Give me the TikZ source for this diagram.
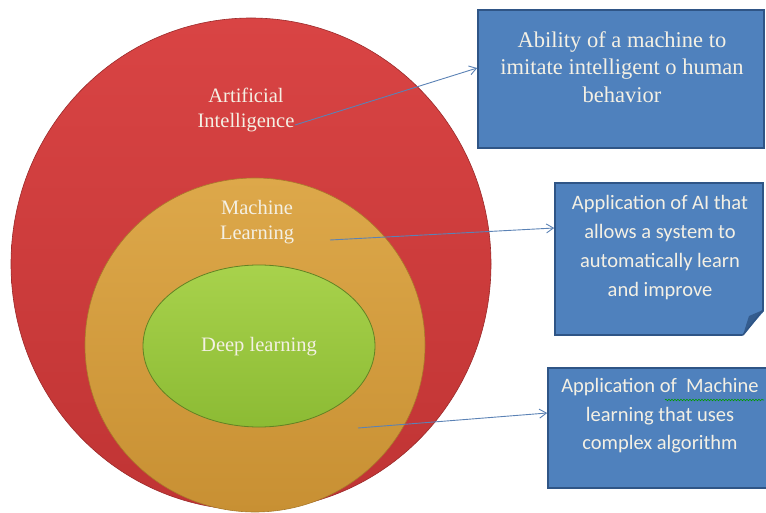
\documentclass[tikz,border=0pt]{standalone}
\usepackage{fontspec}
\setmainfont{Liberation Serif}
\newfontfamily\calib{Carlito}
\usetikzlibrary{shapes.geometric,arrows.meta,decorations.pathmorphing}
\definecolor{redA}{HTML}{D94444}
\definecolor{redB}{HTML}{C03434}
\definecolor{orA}{HTML}{DDA84A}
\definecolor{orB}{HTML}{C89033}
\definecolor{grA}{HTML}{A8D24C}
\definecolor{grB}{HTML}{8CBB34}
\definecolor{boxfill}{HTML}{4F81BD}
\definecolor{boxline}{HTML}{2F5586}
\definecolor{arrowc}{HTML}{5B82B5}
\definecolor{txt}{HTML}{F4F0E4}
\tikzset{
  layer/.style={ellipse, inner sep=0pt},
  lbl/.style={text=txt, font=\fontsize{20.5}{24.5}\selectfont, align=center},
  infobox/.style={rectangle, fill=boxfill, draw=boxline, line width=1.6pt, inner sep=0pt},
  boxtxt/.style={text=txt, align=center},
  conn/.style={draw=arrowc, line width=0.9pt, -{Straight Barb[length=7pt,width=9pt,line width=0.9pt]}}
}
\begin{document}
\begin{tikzpicture}[x=1pt,y=-1pt]
\useasboundingbox (0,0) rectangle (766,513);
% circles
\node[layer, minimum width=480pt, minimum height=492pt, top color=redA, bottom color=redB, draw=redB!80!black, line width=0.6pt] (ai) at (251,264) {};
\node[layer, minimum width=340pt, minimum height=334pt, top color=orA, bottom color=orB, draw=orB!85!black, line width=0.6pt] (ml) at (255,345) {};
\node[layer, minimum width=232pt, minimum height=162pt, top color=grA, bottom color=grB, draw=grB!70!black, line width=0.8pt] (dl) at (259,346) {};
% labels
\node[lbl] (ailbl) at (246,110) {Artificial\\Intelligence};
\node[lbl] (mllbl) at (257,222) {Machine\\Learning};
\node[lbl] (dllbl) at (259,347) {Deep learning};
% boxes
\node[infobox, minimum width=286pt, minimum height=138pt] (b1) at (621,79) {};
\node[boxtxt, font=\fontsize{22.5}{27.5}\selectfont] (t1) at (622,67) {Ability of a machine to\\imitate intelligent o human\\behavior};
\node[infobox, minimum width=208pt, minimum height=152pt] (b2) at (659,259) {};
\fill[white] (742,336.5) -- (766,336.5) -- (766,309) -- cycle;
\fill[boxline!85!boxfill] (743,335) -- (763,310) -- (749,316) -- cycle;
\draw[boxline, line width=1.6pt, line join=round] (743,335) -- (763,310);
\node[boxtxt, font=\calib\fontsize{20.5}{29}\selectfont] (t2) at (660,248) {Application of AI that\\allows a system to\\automatically learn\\and improve};
\node[infobox, minimum width=230pt, minimum height=120pt] (b3) at (663,428) {};
\node[boxtxt, font=\calib\fontsize{20.5}{28.5}\selectfont] (t3) at (660,416) {Application of\ \ Machine\\learning that uses\\complex algorithm};
\draw[green!60!black, line width=0.6pt, decorate, decoration={snake, amplitude=0.8pt, segment length=3pt}] (665,400) -- (764,400);
% connectors
\coordinate (s1) at (295,125);
\coordinate (s2) at (330,240);
\coordinate (s3) at (358,428);
\draw[conn] (s1) -- (b1.west |- 0,68);
\draw[conn] (s2) -- (b2.west |- 0,228);
\draw[conn] (s3) -- (b3.west |- 0,413);
\end{tikzpicture}
\end{document}
